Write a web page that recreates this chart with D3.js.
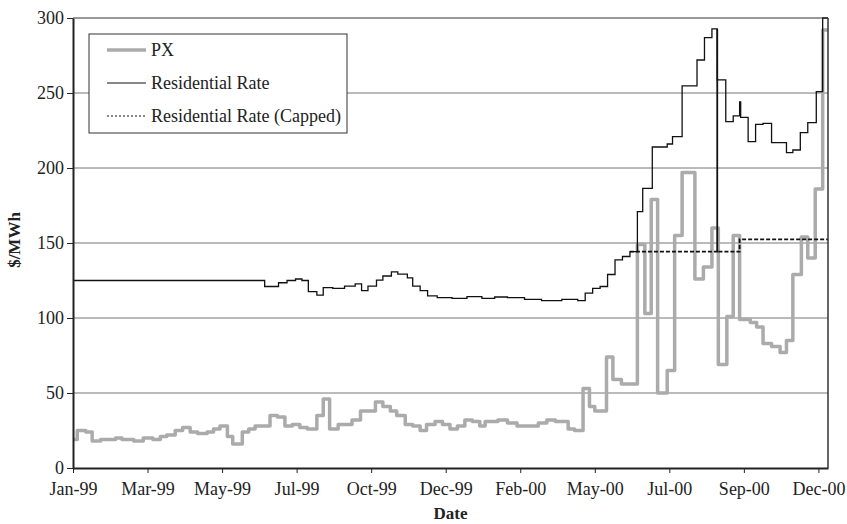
<!DOCTYPE html>
<html>
<head>
<meta charset="utf-8">
<script src="https://cdn.jsdelivr.net/npm/d3@7/dist/d3.min.js"></script>
<style>
	body { margin: 0; background: #fff; }
	svg { font-family: "Liberation Serif", "Times New Roman", serif; }
	.axis path, .axis line { stroke: #222; }
	.axis text { fill: #222; font-size: 18px; font-family: "Liberation Serif", "Times New Roman", serif; }
	.grid line { stroke: #777; stroke-width: 1; }
</style>
</head>
<body>
<svg id="chart" width="847" height="524"></svg>
<script>

// x is a trading-day index (category axis), ticks every 70 points
var tickDays = [0, 70, 140, 210, 280, 350, 420, 490, 560, 630, 700];
var tickLabels = ["Jan-99", "Mar-99", "May-99", "Jul-99", "Oct-99", "Dec-99",
	"Feb-00", "May-00", "Jul-00", "Sep-00", "Dec-00"];
var yTicks = [0, 50, 100, 150, 200, 250, 300];
var lastDay = 709;

var seriesNames = ["PX", "Residential Rate", "Residential Rate (Capped)"];

// [day, $/MWh] at each step change
var pxSteps = [
	[0, 19], [4, 25], [12, 24], [18, 18], [26, 19], [40, 20], [46, 19], [57, 18],
	[66, 20], [75, 19], [82, 21], [88, 22], [96, 25], [103, 27], [110, 24], [117, 23],
	[126, 24], [132, 26], [138, 28], [145, 21], [150, 16], [159, 24], [165, 26], [171, 28],
	[185, 35], [192, 34], [199, 28], [206, 29], [213, 27], [220, 26], [229, 35], [235, 46],
	[241, 26], [249, 29], [262, 32], [270, 38], [284, 44], [291, 41], [298, 38], [304, 35],
	[312, 29], [319, 28], [326, 25], [332, 29], [340, 31], [347, 29], [354, 26], [361, 28],
	[368, 32], [375, 31], [382, 28], [387, 31], [399, 32], [408, 30], [417, 28], [437, 30],
	[445, 32], [453, 31], [465, 26], [471, 25], [479, 53], [485, 41], [490, 38], [501, 74],
	[507, 59], [515, 56], [530, 149], [537, 103], [543, 179], [549, 50], [558, 65], [565, 155],
	[572, 197], [584, 126], [592, 134], [600, 160], [606, 69], [614, 101], [620, 155], [626, 99],
	[636, 97], [642, 94], [648, 83], [656, 81], [664, 77], [670, 85], [676, 129], [684, 154],
	[690, 140], [697, 186], [704, 292], [709, 292]
];

var rateSteps = [
	[0, 125], [180, 121], [193, 123.5], [201, 125], [209, 126], [215, 125], [221, 117.6],
	[229, 115.3], [235, 120.2], [244, 119.8], [255, 121.3], [265, 122.7], [271, 118.2],
	[277, 121.3], [285, 125.3], [291, 128], [299, 130.7], [305, 129.3], [314, 126.7],
	[319, 121.3], [326, 118.2], [333, 114.7], [342, 113.6], [356, 113.1], [370, 114.2],
	[384, 113.1], [396, 114], [408, 113.6], [424, 112.4], [440, 111.6], [459, 112.4],
	[474, 111.6], [481, 116.6], [488, 119.8], [495, 121], [502, 129], [509, 138.7],
	[516, 141], [523, 144.2], [530, 170.9], [535, 186.4], [544, 214], [558, 216],
	[563, 220.9], [572, 254.7], [586, 272], [593, 286.9], [600, 292.7], [605, 258.7],
	[613, 230.9], [620, 234.7], [626, 244], [627, 233.8], [634, 217.6], [641, 229.1],
	[648, 229.8], [656, 216.9], [670, 210.2], [676, 212], [683, 223.6], [690, 230.2],
	[698, 250.9], [704, 300], [709, 300]
];

var cappedSteps = [
	[523, 144.2], [605, 292.7], [605, 144.2], [626, 152.4], [709, 152.4]
];

var margin = {top: 18, right: 19, bottom: 56, left: 73};
var width = 847 - margin.left - margin.right;
var height = 524 - margin.top - margin.bottom;

var svg = d3.select("#chart");
var g = svg.append("g")
	.attr("transform", "translate(" + margin.left + "," + margin.top + ")");

var xScale = d3.scaleLinear()
	.domain([0, lastDay])
	.range([0, width]);

var yScale = d3.scaleLinear()
	.domain([0, 300])
	.range([height, 0]);

g.append("defs").append("clipPath")
	.attr("id", "plot-clip")
	.append("rect")
	.attr("x", 0)
	.attr("y", -1)
	.attr("width", width)
	.attr("height", height + 1);

// gridlines
g.append("g")
	.attr("class", "grid")
	.selectAll("line")
	.data(yTicks.filter(function(d){ return d > 0 && d < 300; }))
	.enter().append("line")
	.attr("x1", 0)
	.attr("x2", width)
	.attr("y1", function(d){ return yScale(d); })
	.attr("y2", function(d){ return yScale(d); });

var line = d3.line()
	.x(function(d){ return xScale(d[0]); })
	.y(function(d){ return yScale(d[1]); })
	.curve(d3.curveStepAfter);

var plot = g.append("g").attr("clip-path", "url(#plot-clip)");

plot.append("path")
	.datum(pxSteps)
	.attr("fill", "none")
	.attr("stroke", "#ababab")
	.attr("stroke-width", 3.5)
	.attr("stroke-linejoin", "round")
	.attr("d", line);

plot.append("path")
	.datum(rateSteps)
	.attr("fill", "none")
	.attr("stroke", "#111")
	.attr("stroke-width", 1.3)
	.attr("d", line);

plot.append("path")
	.datum(cappedSteps)
	.attr("fill", "none")
	.attr("stroke", "#111")
	.attr("stroke-width", 1.8)
	.attr("stroke-dasharray", "4,2")
	.attr("d", line);

// frame
g.append("line")
	.attr("x1", 0).attr("x2", width)
	.attr("y1", 0).attr("y2", 0)
	.attr("stroke", "#333");
g.append("line")
	.attr("x1", width).attr("x2", width)
	.attr("y1", 0).attr("y2", height)
	.attr("stroke", "#333")
	.attr("stroke-width", 1.5);

var xAxis = d3.axisBottom(xScale)
	.tickValues(tickDays)
	.tickFormat(function(d, i){ return tickLabels[i]; })
	.tickSize(5)
	.tickPadding(9)
	.tickSizeOuter(0);

var yAxis = d3.axisLeft(yScale)
	.tickValues(yTicks)
	.tickSize(6)
	.tickPadding(3)
	.tickSizeOuter(0);

var x_axis = g.append("g")
	.attr("class", "axis x-axis")
	.attr("transform", "translate(0," + height + ")")
	.call(xAxis)
	.attr("font-family", null)
	.attr("font-size", null);
x_axis.select(".domain").attr("stroke-width", 2);

var y_axis = g.append("g")
	.attr("class", "axis y-axis")
	.call(yAxis)
	.attr("font-family", null)
	.attr("font-size", null);
y_axis.select(".domain").attr("stroke-width", 2);

// axis titles
svg.append("text")
	.attr("x", margin.left + width / 2)
	.attr("y", 519)
	.attr("text-anchor", "middle")
	.attr("font-weight", "bold")
	.attr("font-size", 17)
	.attr("fill", "#222")
	.text("Date");

svg.append("text")
	.attr("transform", "translate(20,240) rotate(-90)")
	.attr("text-anchor", "middle")
	.attr("font-weight", "bold")
	.attr("font-size", 17)
	.attr("fill", "#222")
	.text("$/MWh");

// legend
var legend = svg.append("g")
	.attr("transform", "translate(89,34)");

legend.append("rect")
	.attr("width", 258)
	.attr("height", 99)
	.attr("fill", "#fff")
	.attr("stroke", "#333");

var legendStyles = [
	{stroke: "#ababab", width: 3.5, dash: null},
	{stroke: "#111", width: 1.2, dash: null},
	{stroke: "#111", width: 1.2, dash: "2,2"}
];

var items = legend.selectAll(".item")
	.data(seriesNames)
	.enter().append("g")
	.attr("class", "item")
	.attr("transform", function(d, i){ return "translate(0," + (16 + i * 33) + ")"; });

items.append("line")
	.attr("x1", 18)
	.attr("x2", 57)
	.attr("stroke", function(d, i){ return legendStyles[i].stroke; })
	.attr("stroke-width", function(d, i){ return legendStyles[i].width; })
	.attr("stroke-dasharray", function(d, i){ return legendStyles[i].dash; });

items.append("text")
	.attr("x", 62)
	.attr("dy", "0.35em")
	.attr("font-size", 18)
	.attr("fill", "#222")
	.text(function(d){ return d; });

</script>
</body>
</html>
